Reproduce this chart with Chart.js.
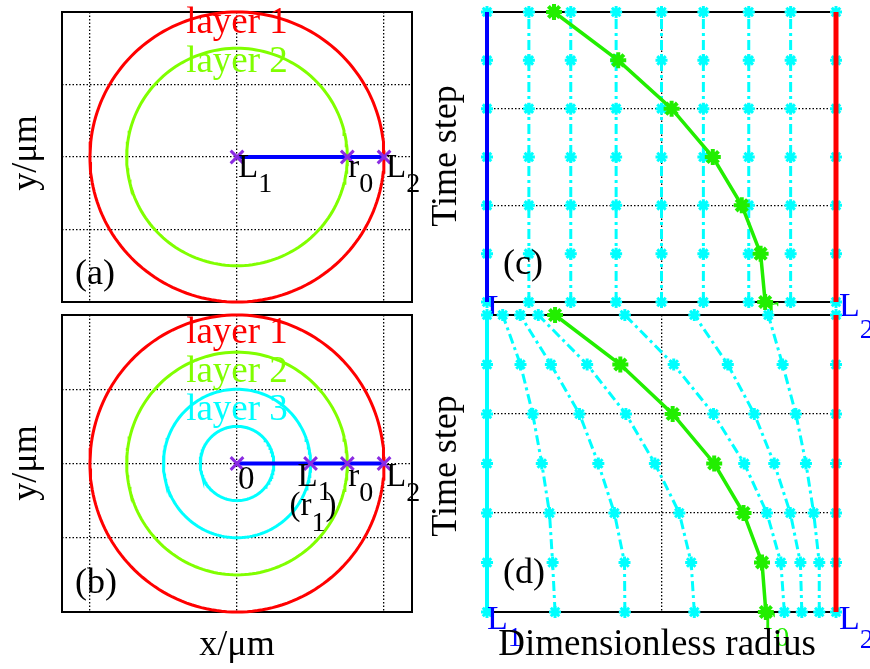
<!DOCTYPE html>
<html><head><meta charset="utf-8">
<script src="https://cdn.jsdelivr.net/npm/chart.js@4.4.1/dist/chart.umd.min.js"></script>
<style>
html,body{margin:0;padding:0;background:#fff;width:870px;height:669px;overflow:hidden}
canvas{position:absolute;left:0;top:0}
</style></head><body>
<canvas id="ca" width="870" height="669"></canvas>
<canvas id="cb" width="870" height="669"></canvas>
<canvas id="cc" width="870" height="669"></canvas>
<canvas id="cd" width="870" height="669"></canvas>
<script>
// ---------------- data ----------------
const layerNamesA = ['layer 1', 'layer 2'];
const layerRadiiA = [1.0, 0.75];
const layerColorsA = ['#ff0000', '#80ff00'];
const layerNamesB = ['layer 1', 'layer 2', 'layer 3'];
const layerRadiiB = [1.0, 0.75, 0.5, 0.25];
const layerColorsB = ['#ff0000', '#80ff00', '#00ffff', '#00ffff'];
const radialPointsA = [0, 0.75, 1.0];        // L1, r0, L2
const radialPointsB = [0, 0.5, 0.75, 1.0];   // 0, L1, r0, L2
const xTicksAB = [-1, 0, 1];
const yTicksAB = [-0.5, 0, 0.5];

const timeSteps = [0, 1, 2, 3, 4, 5, 6];
const frontC = [0.797, 0.784, 0.730, 0.647, 0.529, 0.376, 0.192];
const frontD = [0.799, 0.788, 0.735, 0.651, 0.532, 0.382, 0.195];
const fixedGridC = [0, 0.12, 0.24, 0.37, 0.50, 0.62, 0.75, 0.87, 1.0];
const meshInner1 = [0.195, 0.188, 0.179, 0.157, 0.131, 0.096, 0.045];
const meshInner2 = [0.395, 0.394, 0.365, 0.319, 0.265, 0.183, 0.095];
const meshInner3 = [0.594, 0.585, 0.551, 0.481, 0.398, 0.287, 0.147];
const meshOuter1 = [0.852, 0.842, 0.802, 0.737, 0.649, 0.535, 0.395];
const meshOuter2 = [0.902, 0.898, 0.869, 0.823, 0.766, 0.690, 0.594];
const meshOuter3 = [0.952, 0.952, 0.936, 0.914, 0.885, 0.847, 0.806];
const boundaryL1 = [0, 0, 0, 0, 0, 0, 0];
const boundaryL2 = [1, 1, 1, 1, 1, 1, 1];

// ---------------- helpers ----------------
const SERIF = '"Liberation Serif","Times New Roman",serif';
const W = 870, H = 669;
const RED = '#ff0000', GREEN = '#22ee00', CYAN = '#00ffff', BLUE = '#0000ff', PURPLE = '#8a2be2';

function circle(r) {
  const pts = [];
  for (let a = 0; a <= 360; a += 2) {
    const t = a * Math.PI / 180;
    pts.push({x: r * Math.cos(t), y: r * Math.sin(t)});
  }
  return pts;
}
function column(xs) { return xs.map((x, i) => ({x: x, y: timeSteps[i]})); }

function txt(ctx, s, x, y, size, color, align) {
  ctx.save();
  ctx.font = size + 'px ' + SERIF;
  ctx.fillStyle = color;
  ctx.textAlign = align || 'left';
  ctx.textBaseline = 'alphabetic';
  ctx.fillText(s, x, y);
  const w = ctx.measureText(s).width;
  ctx.restore();
  return w;
}
function subTxt(ctx, main, sub, x, y, size, subSize, color, dy) {
  const w = txt(ctx, main, x, y, size, color);
  txt(ctx, sub, x + w, y + dy, subSize, color);
}
function rotTxt(ctx, s, x, y, size, color) {
  ctx.save();
  ctx.translate(x, y);
  ctx.rotate(-Math.PI / 2);
  ctx.font = size + 'px ' + SERIF;
  ctx.fillStyle = color;
  ctx.textAlign = 'center';
  ctx.textBaseline = 'alphabetic';
  ctx.fillText(s, 0, 0);
  ctx.restore();
}

function panel(id, area, xs, ys, datasets, drawTexts) {
  const plugin = {
    id: 'deco' + id,
    beforeDraw(chart) {
      const a = chart.chartArea, c = chart.ctx;
      c.save(); c.fillStyle = '#fff'; c.fillRect(a.left, a.top, a.right - a.left, a.bottom - a.top); c.restore();
    },
    beforeDatasetsDraw(chart) {
      const a = chart.chartArea, c = chart.ctx;
      c.save(); c.strokeStyle = '#000'; c.lineWidth = 2;
      c.strokeRect(a.left, a.top, a.right - a.left, a.bottom - a.top); c.restore();
    },
    afterDraw(chart) { drawTexts(chart.ctx, chart.scales.x, chart.scales.y); }
  };
  const gridScale = (o) => Object.assign({
    type: 'linear', display: true,
    ticks: {display: false, includeBounds: false},
    grid: {display: true, drawTicks: false, color: '#000', lineWidth: 1.3},
    border: {display: false, dash: [1.5, 2]}
  }, o);
  return new Chart(document.getElementById(id), {
    type: 'scatter',
    data: {datasets: datasets},
    options: {
      responsive: false, animation: false, devicePixelRatio: 1,
      layout: {padding: {left: area[0], top: area[1], right: W - area[2], bottom: H - area[3]}},
      plugins: {legend: {display: false}, tooltip: {enabled: false}},
      scales: {x: gridScale(xs), y: gridScale(ys)}
    },
    plugins: [plugin]
  });
}

function abScales(ticks) {
  return {min: -1.19, max: 1.19, afterBuildTicks: s => { s.ticks = ticks.map(v => ({value: v})); }};
}

function circleSets(radii, colors) {
  return radii.map((r, i) => ({data: circle(r), showLine: true, borderColor: colors[i], borderWidth: 3,
    pointRadius: 0, tension: 0, clip: false, order: 5}));
}
function radialSet(xs) {
  return [{data: xs.map(x => ({x: x, y: 0})), showLine: true, borderColor: BLUE, borderWidth: 4,
    pointStyle: 'crossRot', pointRadius: 9, pointBorderWidth: 3, pointBorderColor: PURPLE,
    pointBackgroundColor: PURPLE, clip: false, order: 1}];
}

// ---------------- (a) ----------------
panel('ca', [62, 5, 412, 302],
  abScales(xTicksAB), {min: -1, max: 1, afterBuildTicks: s => { s.ticks = yTicksAB.map(v => ({value: v})); }},
  circleSets(layerRadiiA, layerColorsA).concat(radialSet(radialPointsA)),
  (c, X, Y) => {
    txt(c, layerNamesA[0], X.getPixelForValue(0), 33, 37, layerColorsA[0], 'center');
    txt(c, layerNamesA[1], X.getPixelForValue(0), 72, 37, layerColorsA[1], 'center');
    const yb = Y.getPixelForValue(0) + 20;
    subTxt(c, 'L', '1', X.getPixelForValue(radialPointsA[0]) + 1, yb, 33, 28, '#000', 15);
    subTxt(c, 'r', '0', X.getPixelForValue(radialPointsA[1]) + 1, yb, 33, 28, '#000', 15);
    subTxt(c, 'L', '2', X.getPixelForValue(radialPointsA[2]) + 2, yb, 33, 28, '#000', 15);
    txt(c, '(a)', 75, 284, 36, '#000');
    rotTxt(c, 'y/\u03bcm', 36, 153, 36, '#000');
  });

// ---------------- (b) ----------------
panel('cb', [62, 315, 412, 612],
  abScales(xTicksAB), {min: -1, max: 1, afterBuildTicks: s => { s.ticks = yTicksAB.map(v => ({value: v})); }},
  circleSets(layerRadiiB, layerColorsB).concat(radialSet(radialPointsB)),
  (c, X, Y) => {
    txt(c, layerNamesB[0], X.getPixelForValue(0), 343, 37, layerColorsB[0], 'center');
    txt(c, layerNamesB[1], X.getPixelForValue(0), 382, 37, layerColorsB[1], 'center');
    txt(c, layerNamesB[2], X.getPixelForValue(0), 420, 37, layerColorsB[2], 'center');
    const yb = Y.getPixelForValue(0) + 22;
    txt(c, '0', X.getPixelForValue(radialPointsB[0]) + 1, yb + 3, 33, '#000');
    subTxt(c, 'L', '1', X.getPixelForValue(radialPointsB[1]) - 13, yb, 33, 28, '#000', 14);
    subTxt(c, 'r', '0', X.getPixelForValue(radialPointsB[2]) + 1, yb, 33, 28, '#000', 15);
    subTxt(c, 'L', '2', X.getPixelForValue(radialPointsB[3]) + 2, yb, 33, 28, '#000', 15);
    // (r_1)
    const px = X.getPixelForValue(radialPointsB[1]) - 21, by = yb + 29;
    const w1 = txt(c, '(r', px, by, 33, '#000');
    const w2 = txt(c, '1', px + w1, by + 16, 28, '#000');
    txt(c, ')', px + w1 + w2, by, 33, '#000');
    txt(c, '(b)', 75, 593, 36, '#000');
    rotTxt(c, 'y/\u03bcm', 36, 463, 36, '#000');
    txt(c, 'x/\u03bcm', X.getPixelForValue(0), 655, 36, '#000', 'center');
  });

// ---------------- (c), (d) ----------------
function cyanSet(xs) {
  return {data: column(xs), showLine: true, borderColor: CYAN, borderWidth: 3, borderDash: [10, 4, 3, 4],
    pointStyle: 'star', pointRadius: 6, pointBorderWidth: 3, pointBorderColor: CYAN, pointBackgroundColor: CYAN,
    clip: false, order: 4, tension: 0};
}
function frontSet(xs) {
  return {data: column(xs), showLine: true, borderColor: GREEN, borderWidth: 3.5,
    pointStyle: 'star', pointRadius: 8, pointBorderWidth: 4, pointBorderColor: GREEN, pointBackgroundColor: GREEN,
    clip: false, order: 2, tension: 0};
}
function edgeSet(xs, color, w) {
  return {data: column(xs), showLine: true, borderColor: color, borderWidth: w, pointRadius: 0, clip: false, order: 1};
}
const rdX = {min: 0, max: 1, afterBuildTicks: s => { s.ticks = [0, 0.5, 1].map(v => ({value: v})); }};
const rdY = {min: 0, max: 6, afterBuildTicks: s => { s.ticks = [0, 2, 4, 6].map(v => ({value: v})); }};

panel('cc', [487, 5, 836, 302], rdX, rdY,
  fixedGridC.map(cx => cyanSet(timeSteps.map(() => cx)))
    .concat([frontSet(frontC), edgeSet(boundaryL1, BLUE, 4), edgeSet(boundaryL2, RED, 5)]),
  (c, X, Y) => {
    txt(c, '(c)', 503, 274, 36, '#000');
    const yb = Y.getPixelForValue(0) + 16;
    subTxt(c, 'L', '1', X.getPixelForValue(0), yb, 34, 28, BLUE, 18);
    subTxt(c, 'r', '0', X.getPixelForValue(frontC[0]) + 2, yb, 34, 28, GREEN, 18);
    subTxt(c, 'L', '2', X.getPixelForValue(1) + 3, yb - 2, 34, 28, BLUE, 22);
    rotTxt(c, 'Time step', 456, 156, 36, '#000');
  });

panel('cd', [487, 315, 836, 612], rdX, rdY,
  [boundaryL1, meshInner1, meshInner2, meshInner3, meshOuter1, meshOuter2, meshOuter3, boundaryL2].map(cyanSet)
    .concat([frontSet(frontD), edgeSet(boundaryL1, CYAN, 4), edgeSet(boundaryL2, RED, 5)]),
  (c, X, Y) => {
    txt(c, '(d)', 503, 583, 36, '#000');
    const yb = Y.getPixelForValue(0) + 17;
    subTxt(c, 'L', '1', X.getPixelForValue(0), yb, 34, 28, BLUE, 17);
    subTxt(c, 'r', '0', X.getPixelForValue(frontD[0]) - 2, yb, 34, 28, GREEN, 17);
    subTxt(c, 'L', '2', X.getPixelForValue(1) + 3, yb, 34, 28, BLUE, 19);
    txt(c, 'Dimensionless radius', 657, 655, 37, '#000', 'center');
    rotTxt(c, 'Time step', 456, 466, 36, '#000');
  });
</script>
</body></html>
